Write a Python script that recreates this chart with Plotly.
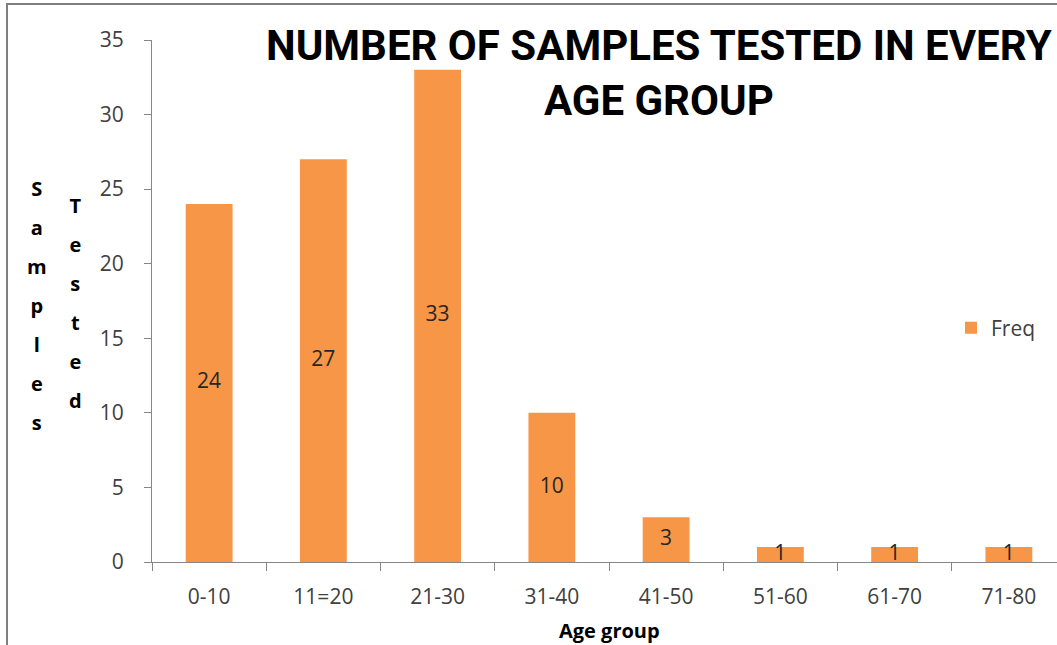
import plotly.graph_objects as go

categories = ["0-10", "11=20", "21-30", "31-40", "41-50", "51-60", "61-70", "71-80"]
freq = [24, 27, 33, 10, 3, 1, 1, 1]
series_name = "Freq"
title_lines = ["NUMBER OF SAMPLES TESTED IN EVERY", "AGE GROUP"]
x_title = "Age group"
y_title_1 = "Samples"
y_title_2 = "Tested"

W, H = 1057, 645
L, R, T, B = 152, 0, 40, 83
pw, ph = W - L - R, H - T - B

def px_x(x):
    return (x - L) / pw

def px_y(y):
    return (H - B - y) / ph

ORANGE = "#F79646"
TXT = "#404040"
FONT = "Open Sans"

fig = go.Figure()
fig.add_trace(go.Bar(x=categories, y=freq, name=series_name, marker_color=ORANGE,
                     width=0.41, marker_line_width=0))
fig.add_trace(go.Scatter(x=categories, y=[v / 2 for v in freq], text=[str(v) for v in freq],
                         mode="text", textfont=dict(size=21, color="#262626", family=FONT),
                         showlegend=False, hoverinfo="skip"))

fig.update_layout(
    width=W, height=H,
    margin=dict(l=L, r=R, t=T, b=B),
    plot_bgcolor="white", paper_bgcolor="white",
    font=dict(family=FONT, color=TXT, size=21),
    showlegend=True,
    legend=dict(x=px_x(951), y=px_y(328), xanchor="left", yanchor="middle",
                font=dict(size=21, color=TXT), bgcolor="rgba(0,0,0,0)"),
    xaxis=dict(type="category", range=[-0.5, 7.5 - 9 / 114.3], showline=True, linecolor="#868686",
               linewidth=1, ticks="outside", tickson="boundaries", ticklen=8, tickcolor="#868686",
               tickfont=dict(size=21, color=TXT), showgrid=False, zeroline=False,
               ticklabelstandoff=16),
    yaxis=dict(range=[0, 35], dtick=5, showline=True, linecolor="#868686", linewidth=1,
               ticks="outside", ticklen=7, tickcolor="#868686", tickfont=dict(size=21, color=TXT),
               showgrid=False, zeroline=False, ticklabelstandoff=16),
)

fig.add_annotation(text="<b>" + "<br>".join(title_lines) + "</b>", xref="paper", yref="paper",
                   x=px_x(659), y=px_y(73), xanchor="center", yanchor="middle", showarrow=False,
                   font=dict(family="Roboto", size=42, color="black"))

fig.add_annotation(text="<b>" + x_title + "</b>", xref="paper", yref="paper",
                   x=px_x(609), y=px_y(630), xanchor="center", yanchor="middle", showarrow=False,
                   font=dict(size=20, color="black"))

def stacked(word):
    return "<br>".join("<span style='font-size:20px'><b>%s</b></span>" % c for c in word)

fig.add_annotation(text=stacked(y_title_1), xref="paper", yref="paper",
                   x=px_x(37), y=px_y(305), xanchor="center", yanchor="middle", showarrow=False,
                   font=dict(size=30, color="black"))
fig.add_annotation(text=stacked(y_title_2), xref="paper", yref="paper",
                   x=px_x(75), y=px_y(303), xanchor="center", yanchor="middle", showarrow=False,
                   font=dict(size=30, color="black"))

fig.add_shape(type="rect", xref="paper", yref="paper",
              x0=px_x(7), x1=px_x(1100), y0=px_y(4), y1=px_y(700),
              line=dict(color="#7F7F7F", width=2), fillcolor="rgba(0,0,0,0)", layer="below")

fig.write_html("out.html", config={"displayModeBar": False},
               post_script="document.body.style.margin='0';")
